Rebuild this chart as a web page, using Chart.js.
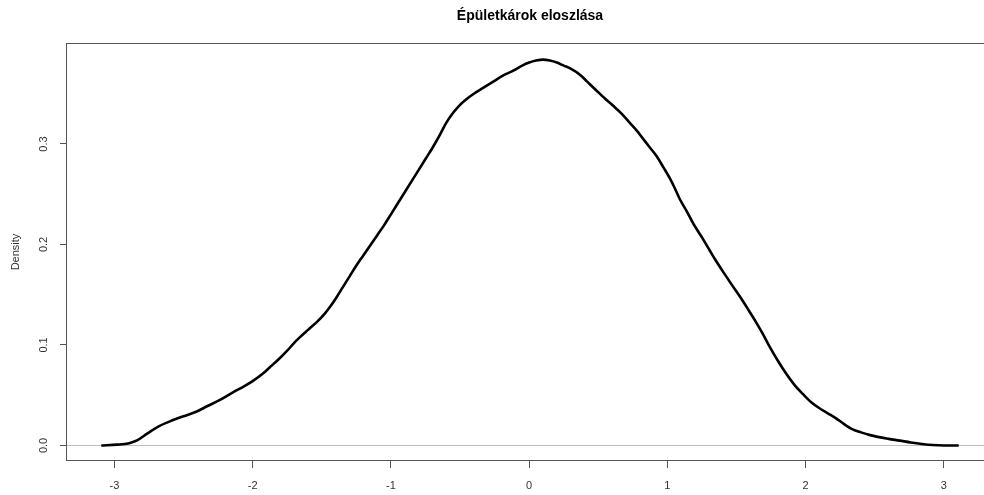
<!DOCTYPE html>
<html>
<head>
<meta charset="utf-8">
<script src="https://cdn.jsdelivr.net/npm/chart.js@4/dist/chart.umd.min.js"></script>
<style>
html, body { margin: 0; padding: 0; overflow: hidden; background: #fff; width: 984px; height: 495px; }
#wrap { width: 1060px; height: 495px; }
</style>
</head>
<body>
<div id="wrap"><canvas id="c" width="1060" height="495"></canvas></div>
<script>
const chartTitle = 'Épületkárok eloszlása';
const yAxisTitle = 'Density';
const xVals = [-3.095,-2.98,-2.90,-2.836,-2.76,-2.68,-2.58,-2.50,-2.40,-2.33,-2.24,-2.14,-2.06,-2.00,-1.93,-1.874,-1.81,-1.752,-1.70,-1.656,-1.60,-1.535,-1.48,-1.44,-1.40,-1.35,-1.30,-1.25,-1.20,-1.15,-1.10,-1.05,-1.00,-0.95,-0.90,-0.85,-0.80,-0.75,-0.70,-0.65,-0.60,-0.55,-0.50,-0.45,-0.40,-0.33,-0.26,-0.19,-0.115,-0.05,0.00,0.05,0.10,0.15,0.20,0.25,0.30,0.367,0.42,0.488,0.55,0.608,0.67,0.728,0.78,0.825,0.87,0.921,0.97,1.017,1.05,1.09,1.14,1.186,1.25,1.306,1.35,1.402,1.46,1.535,1.59,1.644,1.69,1.74,1.80,1.861,1.92,1.981,2.04,2.10,2.16,2.22,2.28,2.34,2.40,2.46,2.52,2.60,2.68,2.76,2.84,2.92,3.00,3.107];
const densityVals = [0.000,0.0008,0.002,0.005,0.012,0.019,0.025,0.029,0.034,0.039,0.045,0.053,0.059,0.064,0.071,0.078,0.086,0.094,0.102,0.108,0.115,0.123,0.131,0.138,0.146,0.157,0.168,0.179,0.189,0.199,0.209,0.219,0.230,0.241,0.252,0.263,0.274,0.285,0.296,0.308,0.321,0.331,0.339,0.345,0.350,0.356,0.362,0.368,0.373,0.378,0.381,0.383,0.384,0.383,0.381,0.378,0.375,0.369,0.362,0.353,0.345,0.338,0.330,0.321,0.313,0.305,0.297,0.288,0.277,0.266,0.257,0.245,0.233,0.221,0.207,0.194,0.184,0.173,0.161,0.146,0.134,0.122,0.111,0.098,0.084,0.071,0.060,0.051,0.043,0.037,0.032,0.027,0.021,0.016,0.013,0.0105,0.0085,0.0065,0.0048,0.003,0.0015,0.0004,0.000,0.000];
const xTickVals = [-3,-2,-1,0,1,2,3];
const xTickLabels = ['-3','-2','-1','0','1','2','3'];
const yTickVals = [0,0.1,0.2,0.3];
const yTickLabels = ['0.0','0.1','0.2','0.3'];
const xLimits = [-3.343, 3.355];
const yLimits = [-0.0155, 0.4005];

const points = xVals.map((x, i) => ({ x: x, y: densityVals[i] }));
const FONT = '"Liberation Sans", Arial, sans-serif';

const rPlotPlugin = {
  id: 'rplot',
  beforeDatasetsDraw(chart) {
    const ctx = chart.ctx, a = chart.chartArea;
    const py = Math.round(chart.scales.y.getPixelForValue(0)) + 0.5;
    ctx.save();
    ctx.strokeStyle = '#bebebe';
    ctx.lineWidth = 1;
    ctx.beginPath();
    ctx.moveTo(a.left, py);
    ctx.lineTo(a.right, py);
    ctx.stroke();
    ctx.restore();
  },
  afterDraw(chart) {
    const ctx = chart.ctx, a = chart.chartArea;
    ctx.save();
    ctx.strokeStyle = '#555';
    ctx.lineWidth = 1;
    ctx.strokeRect(Math.round(a.left) - 0.5, Math.round(a.top) + 0.5, Math.round(a.right - a.left), Math.round(a.bottom - a.top) - 1);
    ctx.fillStyle = '#333';
    ctx.font = '11px ' + FONT;
    ctx.textAlign = 'center';
    ctx.textBaseline = 'middle';
    yTickVals.forEach((v, i) => {
      const py = chart.scales.y.getPixelForValue(v);
      ctx.save();
      ctx.translate(44, py);
      ctx.rotate(-Math.PI / 2);
      ctx.fillText(yTickLabels[i], 0, 0);
      ctx.restore();
    });
    ctx.restore();
  }
};

new Chart(document.getElementById('c'), {
  type: 'line',
  data: {
    datasets: [{
      data: points,
      borderColor: '#000',
      borderWidth: 2.6,
      pointRadius: 0,
      fill: false,
      cubicInterpolationMode: 'monotone'
    }]
  },
  options: {
    responsive: false,
    animation: false,
    devicePixelRatio: 1,
    layout: { padding: 0 },
    plugins: {
      legend: { display: false },
      tooltip: { enabled: false },
      title: {
        display: true,
        text: chartTitle,
        color: '#000',
        font: { family: FONT, size: 14, weight: 'bold' },
        padding: { top: 8, bottom: 18.2 }
      }
    },
    scales: {
      x: {
        type: 'linear',
        min: xLimits[0],
        max: xLimits[1],
        afterBuildTicks: s => { s.ticks = xTickVals.map(v => ({ value: v })); },
        afterFit: s => { s.height = 34; },
        border: { display: false },
        grid: { drawOnChartArea: false, drawTicks: true, tickLength: 7, color: '#555' },
        ticks: {
          autoSkip: false,
          maxRotation: 0,
          padding: 11,
          color: '#333',
          font: { family: FONT, size: 11 },
          callback: (v) => { const i = xTickVals.indexOf(v); return i >= 0 ? xTickLabels[i] : ''; }
        }
      },
      y: {
        type: 'linear',
        min: yLimits[0],
        max: yLimits[1],
        afterBuildTicks: s => { s.ticks = yTickVals.map(v => ({ value: v })); },
        afterFit: s => { s.width = 67; },
        border: { display: false },
        grid: { drawOnChartArea: false, drawTicks: true, tickLength: 7, color: '#555' },
        ticks: { display: false },
        title: {
          display: true,
          text: yAxisTitle,
          color: '#333',
          font: { family: FONT, size: 11 },
          padding: { top: 9, bottom: 0 }
        }
      },
      yRight: {
        type: 'linear',
        position: 'right',
        display: true,
        afterFit: s => { s.width = 67; },
        border: { display: false },
        grid: { display: false },
        ticks: { display: false }
      }
    }
  },
  plugins: [rPlotPlugin]
});
</script>
</body>
</html>
